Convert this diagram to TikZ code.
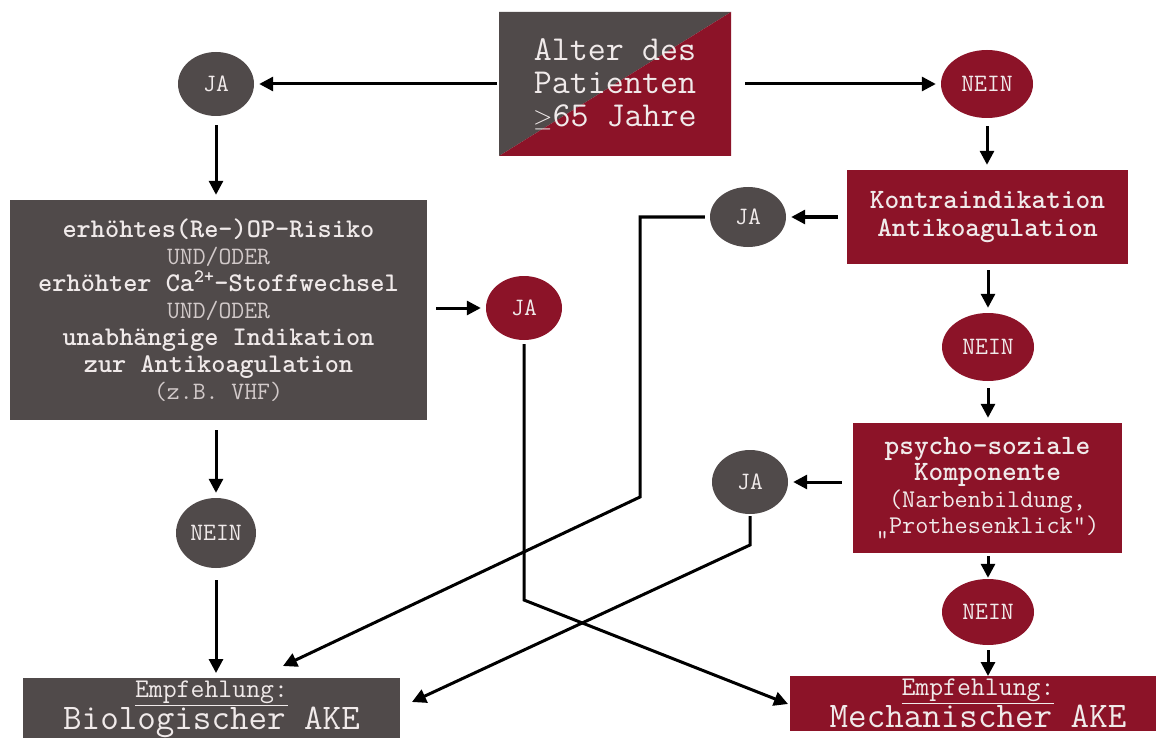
\documentclass[tikz,border=0pt]{standalone}
\usepackage{fontspec}
\renewcommand{\familydefault}{\ttdefault}
\usetikzlibrary{arrows.meta,positioning,shapes.geometric,calc}
\definecolor{akegray}{HTML}{504A4A}
\definecolor{akered}{HTML}{8C1328}
\definecolor{akelight}{HTML}{F0EAEA}
\definecolor{akesoft}{HTML}{D2CACA}
\newcommand{\minortext}[1]{{\color{akesoft}\mdseries\fontsize{25}{27}\selectfont #1}}

\begin{document}
\begin{tikzpicture}[x=1pt, y=-1pt,
box/.style={rectangle, inner sep=0pt, align=center, text=akelight, font=\ttfamily\fontsize{27}{27}\selectfont\bfseries},
gbox/.style={box, fill=akegray},
rbox/.style={box, fill=akered},
dot/.style={ellipse, inner sep=0pt, minimum width=76pt, minimum height=64pt, text=akelight, font=\ttfamily\fontsize{25}{25}\selectfont},
gdot/.style={dot, fill=akegray},
rdot/.style={dot, fill=akered},
arr/.style={-{Triangle[length=14pt,width=14pt]}, line width=3pt, shorten >=5pt}
]
\useasboundingbox (0,0) rectangle (1156,738);
\clip (0,0) rectangle (1156,738);

\node[box, minimum width=232pt, minimum height=144pt, font=\ttfamily\fontsize{35}{33}\selectfont,
  path picture={
    \fill[akegray] (path picture bounding box.south west) -- (path picture bounding box.north west) -- (path picture bounding box.north east) -- cycle;
    \fill[akered] (path picture bounding box.south west) -- (path picture bounding box.south east) -- (path picture bounding box.north east) -- cycle;
  }] (age) at (615,84) {Alter des\\Patienten\\$\geq$65 Jahre};

\node[gdot] (jaA) at (216,84) {JA};
\node[rdot, minimum width=92pt, minimum height=68pt] (neinA) at (987,84) {NEIN};

\node[gbox, minimum width=417pt, minimum height=220pt] (risk) at (218.5,310) {erhöhtes(Re-)OP-Risiko\\
  \minortext{UND/ODER}\\
  erhöhter Ca\textsuperscript{2+}-Stoffwechsel\\
  \minortext{UND/ODER}\\
  unabhängige Indikation\\
  zur Antikoagulation\\
  \minortext{(z.B. VHF)}};
\node[rdot] (jaB) at (524,308) {JA};
\node[gdot, minimum width=80pt, minimum height=70pt] (neinB) at (216,533) {NEIN};

\node[rbox, minimum width=281pt, minimum height=94pt, font=\ttfamily\fontsize{28}{28}\selectfont\bfseries] (kontra) at (987.5,217) {Kontraindikation\\Antikoagulation};
\node[gdot, minimum height=60pt] (jaC) at (748,217) {JA};
\node[rdot, minimum width=92pt, minimum height=68pt] (neinC) at (988,347) {NEIN};

\node[rbox, minimum width=269pt, minimum height=130pt, font=\ttfamily\fontsize{28}{26.5}\selectfont\bfseries] (psy) at (987.5,488) {psycho-soziale\\Komponente\\
  {\mdseries\fontsize{25.5}{26.5}\selectfont (Narbenbildung,}\\
  {\mdseries\fontsize{25.5}{26.5}\selectfont „Prothesenklick“)}};
\node[gdot] (jaD) at (750,482) {JA};
\node[rdot, minimum width=92pt, minimum height=66pt] (neinD) at (988,612) {NEIN};

\node[gbox, anchor=north, minimum width=377pt, inner ysep=3pt, font=\ttfamily\fontsize{27}{32}\selectfont\mdseries] (bio) at (211.5,678) {\underline{Empfehlung:}\\{\fontsize{36}{32}\selectfont Biologischer AKE}};
\node[rbox, anchor=north, minimum width=376pt, inner ysep=3pt, font=\ttfamily\fontsize{27}{32}\selectfont\mdseries] (mech) at (978,676) {\underline{Empfehlung:}\\{\fontsize{36}{32}\selectfont Mechanischer AKE}};

% bends of the long connectors
\coordinate (bendB) at (524,600);
\coordinate (bendC) at (640,497);
\coordinate (bendD) at (750,545);
\coordinate (bioTop) at (283,666);
\coordinate (bioSide) at (412,702);
\coordinate (mechSide) at (788,704);

\draw[arr, shorten <=2pt] (age.west) -- (jaA.east);
\draw[arr, shorten <=14pt] (age.east) -- (neinA.west);
\draw[arr, shorten <=9pt] (jaA.south) -- (jaA.south |- risk.north);
\draw[arr, shorten <=8pt] (neinA.south) -- (neinA.south |- kontra.north);
\draw[arr, shorten <=9pt] (risk.east |- jaB.west) -- (jaB.west);
\draw[arr, shorten <=10pt] (neinB.north |- risk.south) -- (neinB.north);
\draw[arr, shorten <=12pt] (neinB.south) -- (neinB.south |- bio.north);
\draw[arr, shorten <=9pt] (kontra.west) -- (jaC.east);
\draw[arr, shorten <=6pt] (neinC.north |- kontra.south) -- (neinC.north);
\draw[arr, shorten <=7pt] (neinC.south) -- (neinC.south |- psy.north);
\draw[arr, shorten <=11pt] (psy.west |- jaD.east) -- (jaD.east);
\draw[arr, shorten <=3pt, shorten >=1pt] (neinD.north |- psy.south) -- (neinD.north);
\draw[arr, shorten <=5pt, shorten >=0pt] (neinD.south) -- (neinD.south |- mech.north);

\draw[arr, shorten <=5pt, shorten >=0pt] (jaC.west) -| (bendC) -- (bioTop);
\draw[arr, shorten <=2pt, shorten >=0pt] (jaD.south) -- (bendD) -- (bioSide);
\draw[arr, shorten <=4pt, shorten >=0pt] (jaB.south) -- (bendB) -- (mechSide);
\end{tikzpicture}
\end{document}
